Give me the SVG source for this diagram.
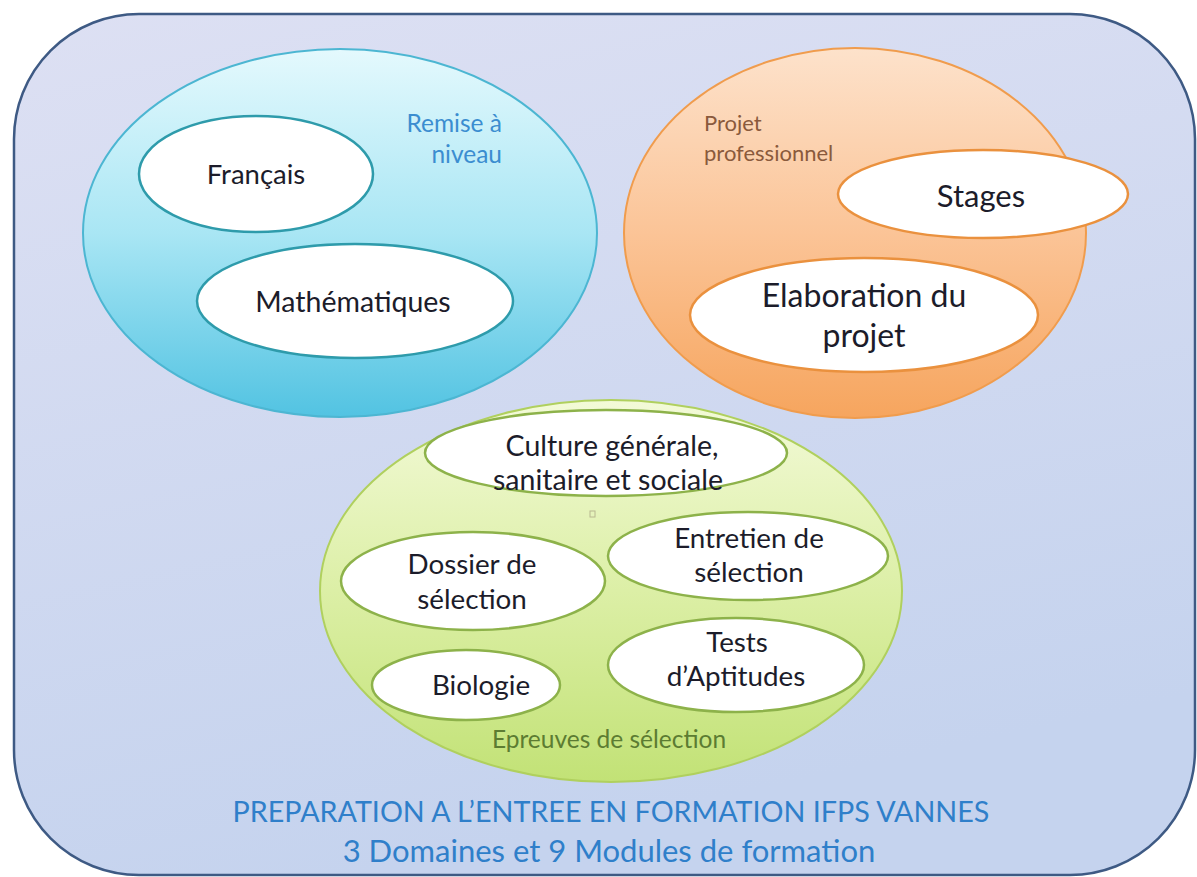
<svg xmlns="http://www.w3.org/2000/svg" width="1197" height="877" viewBox="0 0 1197 877">
<defs>
<linearGradient id="gBg" x1="0" y1="0" x2="0.3" y2="1">
<stop offset="0" stop-color="#dde0f3"/>
<stop offset="1" stop-color="#c5d3ee"/>
</linearGradient>
<linearGradient id="gBlue" x1="0" y1="0" x2="0" y2="1">
<stop offset="0" stop-color="#e4f9fd"/>
<stop offset="0.5" stop-color="#a9e6f4"/>
<stop offset="1" stop-color="#52c3e2"/>
</linearGradient>
<linearGradient id="gOrange" x1="0" y1="0" x2="0" y2="1">
<stop offset="0" stop-color="#fde2cb"/>
<stop offset="0.5" stop-color="#fbc497"/>
<stop offset="1" stop-color="#f6a55e"/>
</linearGradient>
<linearGradient id="gGreen" x1="0" y1="0" x2="0" y2="1">
<stop offset="0" stop-color="#f3fad8"/>
<stop offset="0.5" stop-color="#dcefa6"/>
<stop offset="1" stop-color="#c2e276"/>
</linearGradient>
<style>
.t{font-family:Lato,"Liberation Sans",sans-serif;fill:#1c1c2a;text-anchor:middle}
.lbl{font-family:Lato,"Liberation Sans",sans-serif}
.in{fill:#ffffff;stroke-width:2.5}
.ib{stroke:#2e9bab}
.io{stroke:#ea913e}
.ig{stroke:#8db24a}
</style>
</defs>
<g id="frame">
<rect x="14" y="14" width="1181" height="861" rx="125" ry="125" fill="url(#gBg)" stroke="#3e5a84" stroke-width="2.5"/>
</g>
<g id="remise">
<ellipse cx="340" cy="233" rx="257" ry="184" fill="url(#gBlue)" stroke="#4cb6d2" stroke-width="2"/>
<text class="lbl" x="502" y="132" font-size="24.5" fill="#3b8dd0" text-anchor="end">Remise à</text>
<text class="lbl" x="502" y="163" font-size="24.5" fill="#3b8dd0" text-anchor="end">niveau</text>
</g>
<g id="francais">
<ellipse class="in ib" cx="256" cy="174" rx="117" ry="58"/>
<text class="t" x="256" y="184" font-size="27.5">Français</text>
</g>
<g id="maths">
<ellipse class="in ib" cx="355" cy="301" rx="158" ry="57"/>
<text class="t" x="353" y="312" font-size="28.5">Mathématiques</text>
</g>
<g id="projet-pro">
<ellipse cx="855" cy="233" rx="231" ry="185" fill="url(#gOrange)" stroke="#f09c4d" stroke-width="2"/>
<text class="lbl" x="704" y="131" font-size="22" fill="#8a5a3c">Projet</text>
<text class="lbl" x="704" y="161" font-size="22" fill="#8a5a3c">professionnel</text>
</g>
<g id="stages">
<ellipse class="in io" cx="983" cy="194" rx="145" ry="44"/>
<text class="t" x="981" y="207" font-size="31">Stages</text>
</g>
<g id="elaboration">
<ellipse class="in io" cx="864" cy="315" rx="174" ry="57"/>
<text class="t" x="864" y="307" font-size="32">Elaboration du</text>
<text class="t" x="864" y="347" font-size="32">projet</text>
</g>
<g id="epreuves">
<ellipse cx="611" cy="591" rx="291" ry="191" fill="url(#gGreen)" stroke="#b0d05e" stroke-width="2"/>
<text class="lbl" x="609" y="748" font-size="24.5" fill="#5c7c32" text-anchor="middle">Epreuves de sélection</text>
<rect x="590" y="511" width="5" height="6" fill="none" stroke="#b8b890" stroke-width="1"/>
</g>
<g id="culture">
<ellipse class="in ig" cx="606" cy="453" rx="181" ry="43"/>
<text class="t" x="612" y="456" font-size="28.5">Culture générale,</text>
<text class="t" x="608" y="490" font-size="28.5">sanitaire et sociale</text>
</g>
<g id="dossier">
<ellipse class="in ig" cx="473" cy="581" rx="132" ry="49"/>
<text class="t" x="472" y="574" font-size="27.8">Dossier de</text>
<text class="t" x="472" y="609" font-size="27.8">sélection</text>
</g>
<g id="entretien">
<ellipse class="in ig" cx="748" cy="556" rx="140" ry="44"/>
<text class="t" x="749" y="548" font-size="27.8">Entretien de</text>
<text class="t" x="749" y="582" font-size="27.8">sélection</text>
</g>
<g id="biologie">
<ellipse class="in ig" cx="466" cy="685" rx="94" ry="35"/>
<text class="t" x="481" y="695" font-size="27.8">Biologie</text>
</g>
<g id="tests">
<ellipse class="in ig" cx="736" cy="665" rx="128" ry="47"/>
<text class="t" x="737" y="652" font-size="27.8">Tests</text>
<text class="t" x="736" y="686" font-size="27.8">d’Aptitudes</text>
</g>
<g id="title">
<text class="lbl" x="611" y="822" font-size="28.7" fill="#2f7fca" text-anchor="middle">PREPARATION A L’ENTREE EN FORMATION IFPS VANNES</text>
<text class="lbl" x="609" y="862" font-size="31" fill="#2f7fca" text-anchor="middle">3 Domaines et 9 Modules de formation</text>
</g>
<g id="connectors"/>
</svg>
